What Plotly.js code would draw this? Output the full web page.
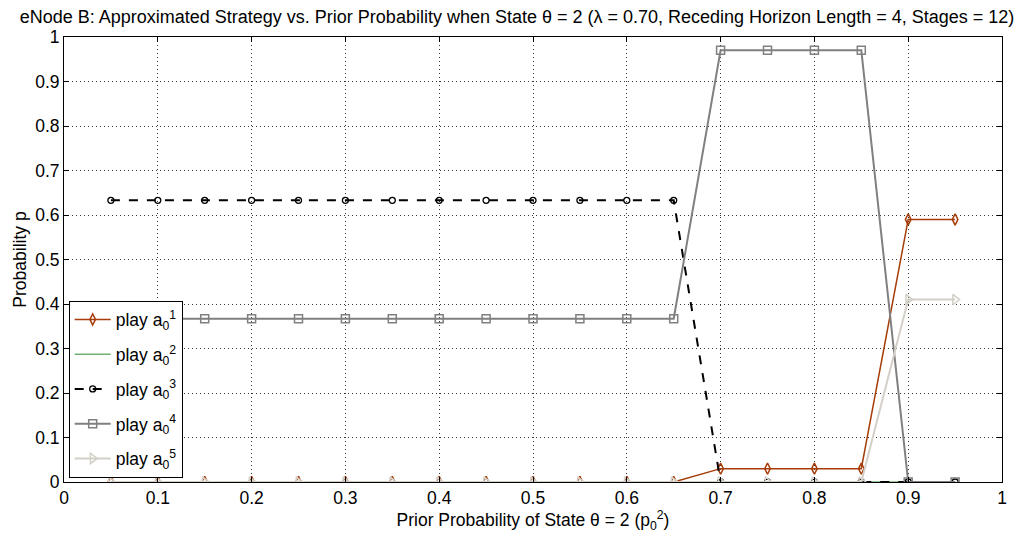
<!DOCTYPE html>
<html><head><meta charset="utf-8">
<script src="https://cdn.plot.ly/plotly-3.0.1.min.js"></script>
<style>body{margin:0;background:#fff}#c{width:1034px;height:539px}</style>
</head><body><div id="c"></div>
<script>
const priorProb = [0.05,0.10,0.15,0.20,0.25,0.30,0.35,0.40,0.45,0.50,0.55,0.60,0.65,0.70,0.75,0.80,0.85,0.90,0.95];
const playA1 = [0,0,0,0,0,0,0,0,0,0,0,0,0,0.03,0.03,0.03,0.03,0.59,0.59];
const playA2 = [0,0,0,0,0,0,0,0,0,0,0,0,0,0,0,0,0,0,0];
const playA3 = [0.633,0.633,0.633,0.633,0.633,0.633,0.633,0.633,0.633,0.633,0.633,0.633,0.633,0,0,0,0,0,0];
const playA4 = [0.367,0.367,0.367,0.367,0.367,0.367,0.367,0.367,0.367,0.367,0.367,0.367,0.367,0.97,0.97,0.97,0.97,0,0];
const playA5 = [0,0,0,0,0,0,0,0,0,0,0,0,0,0,0,0,0,0.41,0.41];
const names = ['play a<sub>0</sub><sup>1</sup>','play a<sub>0</sub><sup>2</sup>','play a<sub>0</sub><sup>3</sup>','play a<sub>0</sub><sup>4</sup>','play a<sub>0</sub><sup>5</sup>'];

const traces = [
 {x:priorProb,y:playA1,name:names[0],legendgroup:'g1',mode:'lines+markers',line:{color:'#a63c08',width:1.5},marker:{symbol:'diamond-tall-open',size:8,color:'#a63c08',line:{width:1.5}}},
 {x:priorProb,y:playA2,name:names[1],legendgroup:'g2',mode:'lines',line:{color:'#2a8a2a',width:1}},
 {x:priorProb,y:playA3,name:names[2],legendgroup:'g3',mode:'lines+markers',line:{color:'#000000',width:2,dash:'dash'},marker:{symbol:'circle-open',size:6,color:'#000000',line:{width:1.3}}},
 {x:priorProb,y:playA4,name:names[3],legendgroup:'g4',mode:'lines+markers',line:{color:'#808080',width:2},marker:{symbol:'square-open',size:8,color:'#808080',line:{width:1.5}}},
 {x:priorProb,y:playA5,name:names[4],legendgroup:'g5',mode:'lines+markers',line:{color:'#d4d0c8',width:2},marker:{symbol:'triangle-right-open',size:9,color:'#d4d0c8',line:{width:1.5}}}
];

const FS = 17.5;
const ax = {
 showline:true, mirror:'ticks', linecolor:'#000', linewidth:1,
 ticks:'inside', ticklen:5, tickcolor:'#000',
 showgrid:true, gridcolor:'#333', griddash:'1px,3px', gridwidth:1,
 zeroline:false, tickfont:{family:'Arial, Liberation Sans',size:FS,color:'#000'},
 range:[0,1], dtick:0.1, tick0:0
};

const layout = {
 width:1034, height:539,
 margin:{l:64,r:32,t:37,b:57},
 paper_bgcolor:'#fff', plot_bgcolor:'#fff',
 font:{family:'Arial, Liberation Sans',size:FS,color:'#000'},
 title:{text:'eNode B: Approximated Strategy vs. Prior Probability when State θ = 2 (λ = 0.70, Receding Horizon Length = 4, Stages = 12)',
   font:{size:18,color:'#000'}, x:0.5, xanchor:'center', y:1-17/539, yanchor:'middle', yref:'container'},
 xaxis:Object.assign({},ax,{title:{text:'Prior Probability of State θ = 2 (p<sub>0</sub><sup>2</sup>)',font:{size:FS},standoff:4}}),
 yaxis:Object.assign({},ax,{title:{text:'Probability p',font:{size:FS},standoff:4}}),
 showlegend:true,
 legend:{x:0.005,y:0.01,xanchor:'left',yanchor:'bottom',bgcolor:'#fff',bordercolor:'#000',borderwidth:1,
   font:{size:FS,color:'#000'},tracegroupgap:9,itemwidth:36}
};
Plotly.newPlot('c',traces,layout,{displayModeBar:false});
</script></body></html>
